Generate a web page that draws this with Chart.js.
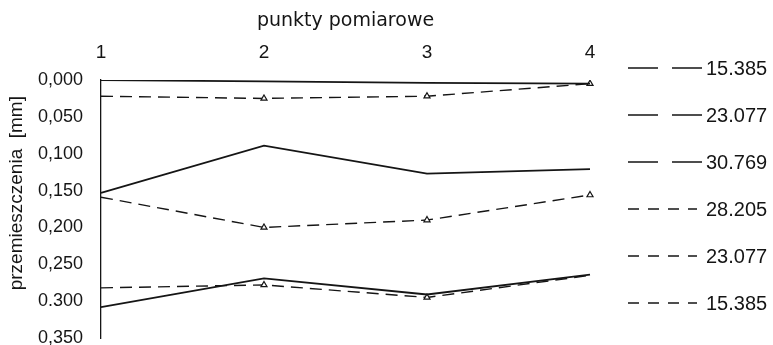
<!DOCTYPE html>
<html>
<head>
<meta charset="utf-8">
<script src="https://cdn.jsdelivr.net/npm/chart.js@4"></script>
<style>
html,body{margin:0;padding:0;background:#fff;}
#wrap{width:773px;height:345px;position:relative;}
</style>
</head>
<body>
<div id="wrap"><canvas id="c" width="773" height="345"></canvas></div>
<script>
const categories = ['1', '2', '3', '4'];
const yTickLabels = ['0,000', '0,050', '0,100', '0,150', '0,200', '0,250', '0.300', '0,350'];
const seriesNames = ['15.385', '23.077', '30.769', '28.205', '23.077', '15.385'];
const load15 = [0.000, 0.002, 0.004, 0.005];
const load23 = [0.153, 0.089, 0.127, 0.121];
const load31 = [0.308, 0.269, 0.291, 0.264];
const unload28 = [0.282, 0.278, 0.295, 0.265];
const unload23 = [0.159, 0.200, 0.190, 0.156];
const unload15 = [0.022, 0.025, 0.022, 0.005];

const INK = '#151515';
function solid(label, data) {
  return { label, data, borderColor: INK, borderWidth: 1.8, pointRadius: 0, fill: false, tension: 0 };
}
function dashed(label, data, radii) {
  return { label, data, borderColor: INK, borderWidth: 1.4, borderDash: [12, 7],
    pointStyle: 'triangle', pointRadius: radii, pointBorderWidth: 1.2,
    pointBackgroundColor: '#fff', pointBorderColor: INK, fill: false, tension: 0 };
}

const legendPlugin = {
  id: 'sideLegend',
  afterDraw(chart) {
    const ctx = chart.ctx;
    ctx.save();
    chart.data.datasets.forEach((ds, i) => {
      const y = 68 + i * 47;
      ctx.strokeStyle = INK;
      ctx.lineWidth = 1.5;
      ctx.setLineDash(ds.borderDash ? [11, 9] : [30, 14]);
      ctx.beginPath();
      ctx.moveTo(628, y);
      ctx.lineTo(ds.borderDash ? 697 : 702, y);
      ctx.stroke();
      ctx.setLineDash([]);
      ctx.fillStyle = INK;
      ctx.font = '20px "Liberation Sans", Arial, sans-serif';
      ctx.textBaseline = 'middle';
      ctx.textAlign = 'left';
      ctx.fillText(ds.label, 706, y + 1);
    });
    ctx.restore();
  }
};

new Chart(document.getElementById('c'), {
  type: 'line',
  data: {
    labels: categories,
    datasets: [
      solid(seriesNames[0], load15),
      solid(seriesNames[1], load23),
      solid(seriesNames[2], load31),
      dashed(seriesNames[3], unload28, [0, 3.5, 3.5, 0]),
      dashed(seriesNames[4], unload23, [0, 3.5, 3.5, 3.5]),
      dashed(seriesNames[5], unload15, [0, 3.5, 3.5, 3.5])
    ]
  },
  options: {
    responsive: false,
    animation: false,
    layout: { padding: { left: 0, right: 183, top: 0, bottom: 0 } },
    plugins: { legend: { display: false }, tooltip: { enabled: false } },
    scales: {
      x: {
        position: 'top',
        offset: false,
        grid: { display: false, drawTicks: false },
        border: { display: false },
        ticks: { color: INK, padding: 16, maxRotation: 0,
          font: { family: '"Liberation Sans", Arial, sans-serif', size: 19 } },
        title: { display: true, text: 'punkty pomiarowe', color: INK, padding: { top: 10, bottom: 0 },
          font: { family: '"DejaVu Sans", Verdana, sans-serif', size: 19 } },
        afterFit(s) { s.height = 80; }
      },
      y: {
        min: 0, max: 0.35, reverse: true,
        grid: { display: false, drawTicks: true, tickLength: 6, color: INK },
        border: { display: true, color: INK, width: 1.3 },
        ticks: { stepSize: 0.05, color: INK, padding: 12,
          font: { family: '"Liberation Sans", Arial, sans-serif', size: 18 },
          callback: (v) => yTickLabels[Math.round(v / 0.05)] },
        title: { display: true, text: '      przemieszczenia  [mm]', color: INK, padding: { top: 5, bottom: 0 },
          font: { family: '"Liberation Sans", Arial, sans-serif', size: 19 } },
        afterFit(s) { s.width = 101; s.paddingTop = 0; s.paddingBottom = 7; }
      }
    }
  },
  plugins: [legendPlugin]
});
</script>
</body>
</html>
